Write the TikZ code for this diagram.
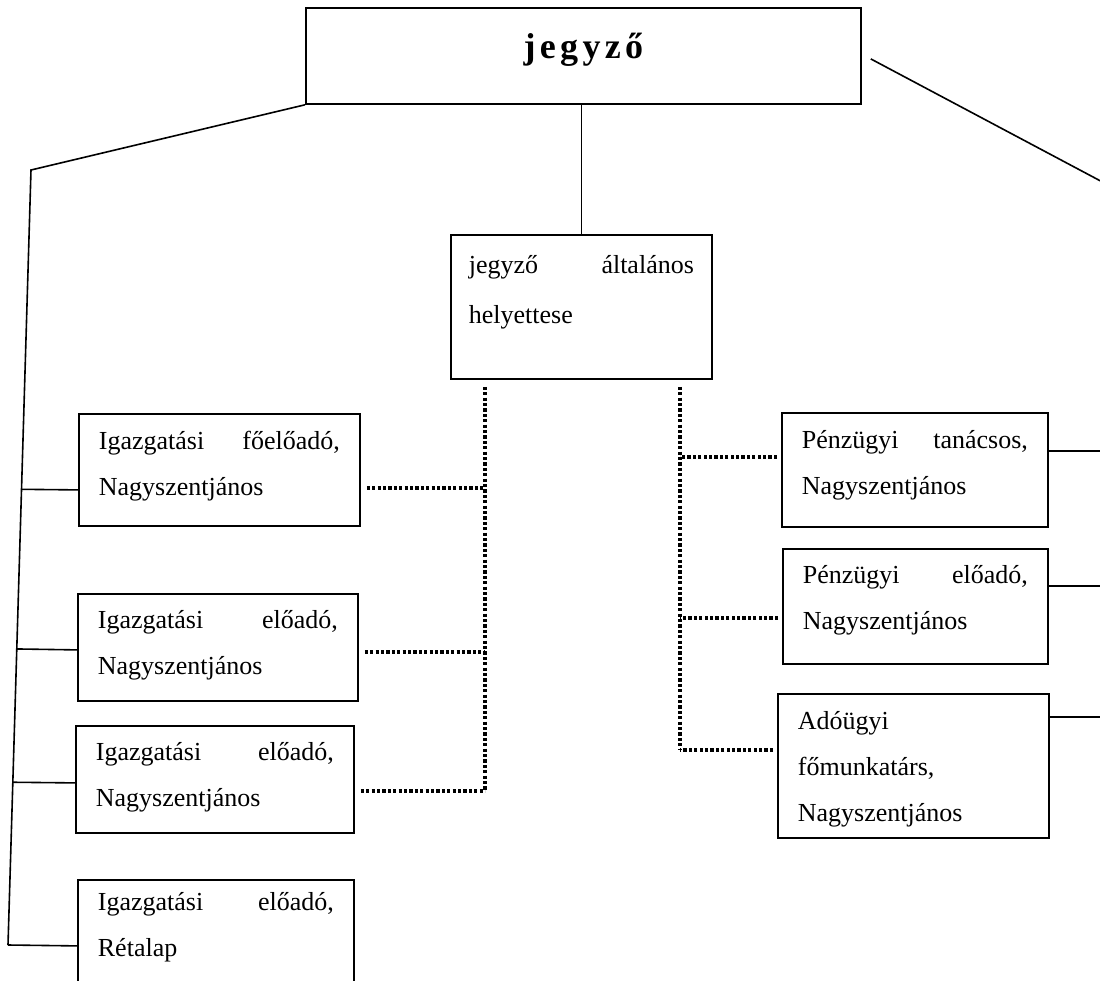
\documentclass[tikz,border=0pt]{standalone}
\usepackage{fontspec}
\setmainfont{Liberation Serif}
\usetikzlibrary{calc}

\begin{document}
\begin{tikzpicture}[x=0.5pt,y=-0.5pt,
  box/.style={draw,line width=0.9pt,rectangle,anchor=north west,inner xsep=10pt,inner ysep=0pt,
    align=left,font=\fontsize{13}{23}\selectfont,text height=17.5pt},
  solidline/.style={line width=0.8pt},
  dotline/.style={line width=1.8pt,dash pattern=on 1.6pt off 1.1pt}]
\useasboundingbox (0,0) rectangle (1100,981);

% jegyzo and helyettes
\node[box,align=center,inner xsep=0pt,text width=277.5pt,text height=25.5pt,text depth=22.5pt,
  font=\fontsize{18}{20}\selectfont\bfseries\addfontfeatures{LetterSpace=12}] (top) at (305,7) {jegyző};
\node[box,inner xsep=9pt,text width=112.5pt,text height=19.5pt,text depth=52.5pt,
  font=\fontsize{13}{25}\selectfont] (dep) at (450,234) {jegyző \hfill általános\\ helyettese};
\draw[solidline] (dep.north |- top.south) -- (dep.north);

% left side
\node[box,text width=120.5pt,text height=18pt,text depth=38pt] (b1) at (78,413) {Igazgatási \hfill főelőadó,\\ Nagyszentjános};
\node[box,text width=120pt,text depth=36pt] (b2) at (77,593) {Igazgatási \hfill előadó,\\ Nagyszentjános};
\node[box,text width=119pt,text depth=36pt] (b3) at (75,725) {Igazgatási \hfill előadó,\\ Nagyszentjános};
\node[box,text width=118pt,text height=15.5pt,text depth=50.5pt] (b4) at (77,879) {Igazgatási \hfill előadó,\\ Rétalap};

\coordinate (lc) at (31,170);
\coordinate (le) at (8,945);
\draw[solidline] (top.south west) -- (lc) -- (le);
\foreach \k/\s/\t in {b1/20/0.412,b2/2.5/0.618,b3/3.5/0.790,b4/0/1}{%
\coordinate (\k s) at ($(\k.west)+(0,\s)$);
\draw[solidline] (\k s) -- ($(lc)!\t!(le)$);
}

% right side
\node[box,text width=113pt,text height=18pt,text depth=39pt] (r1) at (781,412) {Pénzügyi \hfill tanácsos,\\ Nagyszentjános};
\node[box,text width=112.5pt,text depth=40pt] (r2) at (782,548) {Pénzügyi \hfill előadó,\\ Nagyszentjános};
\node[box,text width=115.5pt,text height=18pt,text depth=54pt] (r3) at (777,693) {Adóügyi\\ főmunkatárs,\\ Nagyszentjános};

\coordinate (rc) at (1110,186);
\coordinate (re) at (1110,760);
\draw[solidline] ($(top.east)+(9,3)$) -- (rc) -- (re);
\foreach \k/\s in {r1/39,r2/38,r3/24}{%
\coordinate (\k s) at ($(\k.north east)+(0,\s)$);
\draw[solidline] (\k s) -- (\k s -| rc);
}

% dotted lines from helyettes
\coordinate (dl) at ($(dep.south west)+(35,7)$);
\coordinate (dr) at ($(dep.south east)+(-33,7)$);
\foreach \k/\s in {b1/18,b2/4.5,b3/11.5}{%
\coordinate (\k d) at ($(\k.east)+(0,\s)$);
\draw[dotline,shorten <=3pt] (\k d) -- (\k d -| dl);
}
\foreach \k/\s in {r1/45,r2/70,r3/57}{%
\coordinate (\k d) at ($(\k.north west)+(0,\s)$);
\draw[dotline,shorten <=2pt] (\k d) -- (\k d -| dr);
}
\draw[dotline] (dl) -- (dl |- b3d);
\draw[dotline] (dr) -- (dr |- r3d);

\end{tikzpicture}
\end{document}
